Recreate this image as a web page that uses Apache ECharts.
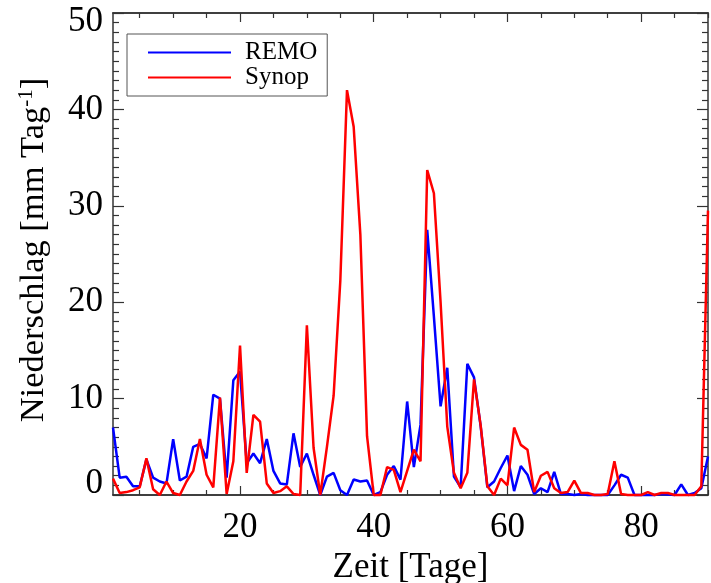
<!DOCTYPE html>
<html>
<head>
<meta charset="utf-8">
<script src="https://cdn.jsdelivr.net/npm/echarts@6/dist/echarts.min.js"></script>
<style>
  html, body { margin: 0; padding: 0; background: #fff; }
  #chart { width: 711px; height: 583px; }
</style>
</head>
<body>
<div id="chart"></div>
<script>
// Tage 1..90
const days = [];
for (let d = 1; d <= 90; d++) days.push(d);

// Niederschlag REMO [mm/Tag]
const remo = [
  7.0, 1.8, 1.9, 0.9, 0.9, 3.7, 1.8, 1.4, 1.2, 5.8,
  1.5, 1.9, 5.0, 5.3, 3.8, 10.4, 10.0, 1.8, 11.9, 12.8,
  3.3, 4.3, 3.3, 5.8, 2.5, 1.2, 1.1, 6.4, 2.9, 4.3,
  2.1, 0.0, 1.9, 2.3, 0.5, 0.0, 1.6, 1.4, 1.5, 0.0,
  0.3, 2.1, 3.0, 1.6, 9.7, 2.9, 7.3, 27.5, 18.5, 9.2,
  13.2, 1.9, 0.8, 13.6, 12.2, 7.1, 0.8, 1.4, 2.8, 4.1,
  0.4, 3.0, 2.1, 0.1, 0.7, 0.3, 2.4, 0.1, 0.1, 0.0,
  0.1, 0.0, 0.0, 0.0, 0.0, 1.0, 2.1, 1.8, 0.0, 0.0,
  0.0, 0.0, 0.1, 0.05, 0.0, 1.1, 0.0, 0.2, 0.7, 4.0
];

// Niederschlag Synop [mm/Tag]
const synop = [
  1.7, 0.2, 0.3, 0.5, 0.8, 3.8, 0.6, 0.0, 1.4, 0.2,
  0.0, 1.4, 2.5, 5.8, 2.1, 0.8, 10.1, 0.1, 3.5, 15.5,
  2.3, 8.3, 7.6, 1.2, 0.2, 0.4, 0.9, 0.1, 0.0, 17.6,
  4.9, 0.0, 5.0, 10.3, 22.2, 42.0, 38.2, 27.0, 6.1, 0.0,
  0.0, 2.9, 2.6, 0.3, 2.5, 4.7, 3.5, 33.7, 31.3, 20.0,
  7.1, 2.3, 0.7, 2.3, 12.0, 7.2, 0.9, 0.0, 1.7, 1.0,
  7.0, 5.2, 4.7, 0.3, 2.0, 2.4, 0.7, 0.2, 0.3, 1.5,
  0.2, 0.2, 0.0, 0.0, 0.1, 3.5, 0.1, 0.0, 0.0, 0.0,
  0.3, 0.0, 0.2, 0.2, 0.0, 0.0, 0.0, 0.0, 0.9, 29.5
];

// Achsenbeschriftung
const xMajorTicks = [20, 40, 60, 80];
const xMinorTicks = [5, 10, 15, 25, 30, 35, 45, 50, 55, 65, 70, 75, 85, 90];

const font = 'Liberation Serif';
const axisColor = '#333';

function xAxisDef(position, ticks, len, withLabels) {
  return {
    type: 'value',
    position: position,
    min: 1,
    max: 90,
    axisLine: { show: true, onZero: false, lineStyle: { color: axisColor, width: 1.5 } },
    axisTick: { show: true, inside: true, length: len, customValues: ticks,
                lineStyle: { color: axisColor, width: 1.2 } },
    axisLabel: withLabels ? {
      show: true, customValues: xMajorTicks, margin: 15,
      fontFamily: font, fontSize: 35, color: '#000'
    } : { show: false },
    splitLine: { show: false }
  };
}

function yAxisDef(position, withLabels) {
  return {
    type: 'value',
    position: position,
    min: 0,
    max: 50,
    interval: 10,
    axisLine: { show: true, lineStyle: { color: axisColor, width: 1.5 } },
    axisTick: { show: true, inside: true, length: 11, lineStyle: { color: axisColor, width: 1.2 } },
    minorTick: { show: true, splitNumber: 10, length: 6, lineStyle: { color: axisColor, width: 1.2 } },
    splitLine: { show: false },
    axisLabel: withLabels ? {
      show: true,
      margin: 10,
      formatter: function (v) {
        if (v === 0) return '{lo|0}';
        if (v === 50) return '{hi|50}';
        return '{n|' + v + '}';
      },
      rich: {
        n: { fontFamily: font, fontSize: 35, color: '#000' },
        lo: { fontFamily: font, fontSize: 35, color: '#000', padding: [0, 0, 23, 0] },
        hi: { fontFamily: font, fontSize: 35, color: '#000', padding: [18, 0, 0, 0] }
      }
    } : { show: false }
  };
}

const chart = echarts.init(document.getElementById('chart'), null, { renderer: 'canvas' });

const bottomMajor = xAxisDef('bottom', xMajorTicks, 9, true);
bottomMajor.name = 'Zeit [Tage]';
bottomMajor.nameLocation = 'middle';
bottomMajor.nameGap = 53;
bottomMajor.nameTextStyle = { fontFamily: font, fontSize: 35, color: '#000' };

const leftAxis = yAxisDef('left', true);
leftAxis.name = 'Niederschlag [mm Tag{sup|-1}]';
leftAxis.nameLocation = 'middle';
leftAxis.nameGap = 62;
leftAxis.nameTextStyle = {
  fontFamily: font, fontSize: 34.5, color: '#000', padding: [0, 0, 0, 8],
  rich: { sup: { fontFamily: font, fontSize: 21, color: '#000', verticalAlign: 'top', padding: [0, 0, 14, 0] } }
};

const option = {
  animation: false,
  backgroundColor: '#fff',
  grid: { left: 113, right: 3, top: 13, bottom: 88, containLabel: false, outerBoundsMode: 'none' },
  legend: {
    orient: 'vertical',
    left: 127,
    top: 34,
    padding: [6, 10, 6, 21],
    icon: 'rect',
    itemWidth: 83,
    itemHeight: 2,
    itemGap: 0,
    borderColor: '#555',
    borderWidth: 1,
    backgroundColor: '#fff',
    textStyle: { fontFamily: font, fontSize: 25, color: '#000', lineHeight: 22, padding: [0, 0, 0, 9] },
    data: ['REMO', 'Synop']
  },
  xAxis: [
    bottomMajor,
    xAxisDef('bottom', xMinorTicks, 5, false),
    xAxisDef('top', xMajorTicks, 9, false),
    xAxisDef('top', xMinorTicks, 5, false)
  ],
  yAxis: [
    leftAxis,
    yAxisDef('right', false)
  ],
  series: [
    {
      name: 'REMO',
      type: 'line',
      xAxisIndex: 0,
      yAxisIndex: 0,
      symbol: 'none',
      clip: false,
      color: '#0000ff',
      lineStyle: { color: '#0000ff', width: 2.5 },
      data: days.map((d, i) => [d, remo[i]])
    },
    {
      name: 'Synop',
      type: 'line',
      xAxisIndex: 0,
      yAxisIndex: 0,
      symbol: 'none',
      clip: false,
      color: '#ff0000',
      lineStyle: { color: '#ff0000', width: 2.5 },
      data: days.map((d, i) => [d, synop[i]])
    }
  ]
};

chart.setOption(option);
</script>
</body>
</html>
